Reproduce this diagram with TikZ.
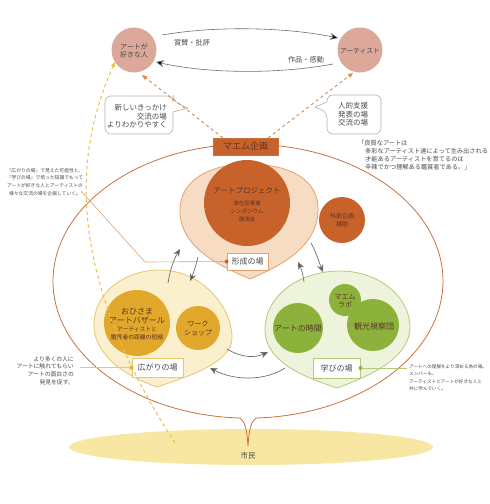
\documentclass[tikz,border=0pt]{standalone}
\usepackage{fontspec}
\setmainfont{Noto Sans CJK JP}
\usetikzlibrary{arrows.meta}
\newcommand\fsz[2]{\fontsize{#1}{#2}\selectfont}
\definecolor{pinkc}{HTML}{DCA89A}
\definecolor{orng}{HTML}{C8622B}
\definecolor{peach}{HTML}{F6DCC3}
\definecolor{peachline}{HTML}{E0A272}
\definecolor{ylwfill}{HTML}{FBF0CD}
\definecolor{ylwline}{HTML}{E8C670}
\definecolor{gold}{HTML}{E2A82C}
\definecolor{grnfill}{HTML}{EEF3DB}
\definecolor{grnline}{HTML}{B2CB78}
\definecolor{grn}{HTML}{8CB23C}
\definecolor{citizen}{HTML}{F8E7A2}
\definecolor{bubble}{HTML}{C9713A}
\definecolor{dashor}{HTML}{D9864A}
\definecolor{dashyl}{HTML}{E6C24A}
\definecolor{txt}{HTML}{4A4A4A}
\definecolor{darktxt}{HTML}{5A3426}
\definecolor{agray}{HTML}{6E6E6E}
\begin{document}
\begin{tikzpicture}[x=1pt,y=-1pt,
  disc/.style={circle, fill=#1, inner sep=0pt},
  ctext/.style={text=darktxt, inner sep=0pt, align=center},
  gtext/.style={text=txt, inner sep=0pt},
  areabox/.style={draw=#1, fill=white, line width=1pt, inner sep=0pt, font=\fsz{8}{9}, text=txt},
  dotmark/.style={circle, fill=#1, inner sep=0pt, minimum size=4pt},
  garrow/.style={draw=agray, line width=0.7pt, -{Stealth[length=7.5pt,width=6.5pt,fill=agray!80!black]}},
  karrow/.style={draw=agray, line width=0.6pt, -{Stealth[length=8pt,width=7pt,fill=black]}},
  darrow/.style={draw=dashor, line width=0.9pt, dash pattern=on 3pt off 3pt, -{Triangle[length=5pt,width=4pt]}},
  note/.style={draw=gray!60, fill=white, line width=0.6pt, rounded corners=6pt},
]
\useasboundingbox (0,0) rectangle (490,504);

% citizens
\fill[citizen] (251,447) ellipse [x radius=182, y radius=18];
\node[gtext, font=\fsz{7.5}{9}] (shimin) at (248,456) {市民};

% big bubble
\coordinate (tip) at (248,446);
\draw[bubble, line width=0.8pt] (tip) .. controls (247,430) and (245,421) .. (239.5,418)
  arc[start angle=92.5, end angle=447.5, x radius=195, y radius=137]
  .. controls (251,421) and (249,430) .. (tip);

% formation area (peach)
\draw[draw=peachline, fill=peach, line width=0.8pt]
  (250,279) .. controls (225,268) and (181,250) .. (180,212)
  .. controls (179,180) and (210,164) .. (248,164)
  .. controls (290,164) and (320,180) .. (318,212)
  .. controls (316,250) and (275,268) .. (250,279) -- cycle;
% spread area (yellow)
\draw[draw=ylwline, fill=ylwfill, line width=0.8pt]
  (157,387) .. controls (125,376) and (94,355) .. (94,325)
  .. controls (94,292) and (125,270) .. (160,270)
  .. controls (200,270) and (232,305) .. (232,338)
  .. controls (232,362) and (190,376) .. (157,387) -- cycle;
% learning area (green)
\draw[draw=grnline, fill=grnfill, line width=0.8pt]
  (337,388) .. controls (300,376) and (265,360) .. (265,330)
  .. controls (265,295) and (300,271) .. (340,271)
  .. controls (380,271) and (410,298) .. (410,327)
  .. controls (410,358) and (370,376) .. (337,388) -- cycle;

% circles
\node[disc=orng, minimum size=86pt] (proj) at (247,203) {};
\node[ctext, font=\fsz{7.5}{9}] (projt) at (247,191) {アートプロジェクト};
\node[ctext, font=\fsz{5.5}{8}] (projs) at (247,211) {滞在型事業\\シンポジウム\\講演会};
\node[disc=orng, minimum size=46pt] (gaibu) at (342,220) {};
\node[ctext, font=\fsz{6}{8}] (gaibut) at (342,220) {外部企画\\補助};

\node[disc=gold, minimum size=66pt] (bazaar) at (137,323) {};
\node[ctext, font=\fsz{8}{8.5}] (bazaart) at (137,316) {おひさま\\アートバザール};
\node[ctext, font=\fsz{5.8}{8}] (bazaars) at (137,333) {アーティストと\\鑑賞者の距離の短縮};
\node[disc=gold, minimum size=44pt] (ws) at (198,328) {};
\node[ctext, font=\fsz{7}{9}] (wst) at (198,328) {ワーク\\ショップ};

\node[disc=grn, minimum size=50pt] (jikan) at (298,328) {};
\node[disc=grn, minimum size=32pt] (labo) at (345,300) {};
\node[disc=grn, minimum size=52pt] (kanko) at (373,325) {};
\node[ctext, font=\fsz{8}{9}] (jikant) at (298,328) {アートの時間};
\node[ctext, font=\fsz{7}{8.5}] (labot) at (345,301) {マエム\\ラボ};
\node[ctext, font=\fsz{8}{9}] (kankot) at (374,326) {観光視察団};

% area labels
\node[areabox=peachline, minimum width=41pt, minimum height=17pt] (keisei) at (247.5,261.5) {形成の場};
\node[dotmark=orng] (kdot) at (keisei.west) {};
\node[areabox=ylwline, minimum width=51pt, minimum height=19pt] (hiro) at (157.5,367.5) {広がりの場};
\node[dotmark=gold] (hdot) at (hiro.west) {};
\node[areabox=grnline, minimum width=47pt, minimum height=20pt] (manabi) at (336.5,368) {学びの場};
\node[dotmark=grn] (mdot) at (manabi.east) {};

% annotations
\node[gtext, align=center, anchor=north, font=\fsz{4.8}{7.6}] (annL) at (45,168)
  {『広がりの場』で見えた可能性と、\\『学びの場』で培った知識でもって\\アートが好きな人とアーティストの\\様々な交流の場を企画していく。};
\coordinate (annLend) at (81,191);
\draw[draw=peachline, line width=0.6pt] (annLend) -- (145,262) -- (kdot);

\node[gtext, align=right, anchor=north east, font=\fsz{5.8}{7.8}] (annBL) at (74,356)
  {より多くの人に\\アートに触れてもらい\\アートの面白さの\\発見を促す。};
\coordinate (annBLend) at (80,367.5);
\draw[draw=ylwline, line width=0.6pt] (annBLend) -- (hdot);

\node[gtext, align=left, anchor=north west, font=\fsz{4.6}{7.4}] (annBR) at (409,364.5)
  {アートへの理解をより深める為の場。\\メンバーも、\\アーティストとアートが好きな人と\\共に学んでいく。};
\coordinate (annBRend) at (407,368);
\draw[draw=grnline, line width=0.6pt] (mdot) -- (annBRend);

\node[gtext, align=left, anchor=north west, font=\fsz{6.2}{8}] (quote) at (358,140.5)
  {「良質なアートは\\\hspace*{7pt}多彩なアーティスト達によって生み出される\\\hspace*{7pt}才能あるアーティストを育てるのは\\\hspace*{7pt}辛辣でかつ理解ある鑑賞者である。」};

% gray arrows between areas
\draw[garrow] (168,283) .. controls (170,270) and (174,259) .. (180,249);
\draw[garrow] (198,257) .. controls (196,265) and (194,272) .. (190,281);
\draw[garrow] (304,282) .. controls (303,274) and (301,268) .. (298,262);
\draw[garrow] (311,243) .. controls (316,252) and (319,262) .. (323,272);
\draw[garrow] (227,349) .. controls (242,358) and (255,358) .. (268,352);
\draw[garrow] (285,368) .. controls (265,381) and (235,381) .. (210,368);

% top: people
\node[disc=pinkc, minimum size=45pt] (fan) at (134,50) {};
\node[ctext, font=\fsz{7}{8.5}, text=txt] (fant) at (134,51) {アートが\\好きな人};
\node[disc=pinkc, minimum size=45pt] (artist) at (360,50) {};
\node[ctext, font=\fsz{6.8}{8}, text=txt] (artistt) at (360,51) {アーティスト};

\coordinate (a1s) at (162,35);
\coordinate (a1e) at (338,38);
\draw[karrow] (a1s) .. controls (220,25) and (290,28) .. (a1e);
\node[gtext, font=\fsz{7.2}{9}] (shosan) at (192,43) {賞賛・批評};
\coordinate (a2s) at (333,64);
\coordinate (a2e) at (156,62);
\draw[karrow] (a2s) .. controls (280,74) and (210,74) .. (a2e);
\node[gtext, font=\fsz{7.2}{9}] (sakuhin) at (306,60) {作品・感動};

% speech notes
\draw[note] (105,96) -- (173,96) -- (173,101) [sharp corners] -- (188,108) -- (173,112) [rounded corners=6pt] -- (173,134) -- (105,134) -- cycle;
\node[gtext, align=right, anchor=east, font=\fsz{7.5}{8.6}] (noteL) at (167,116.5) {新しいきっかけ\\交流の場\\よりわかりやすく};
\draw[note] (381,95) -- (381,134) -- (327,134) -- (327,112) [sharp corners] -- (315,107) -- (327,102) [rounded corners=6pt] -- (327,95) -- cycle;
\node[gtext, align=center, font=\fsz{7.5}{8.6}] (noteR) at (353,114.5) {人的支援\\発表の場\\交流の場};

% yellow dashed link
\draw[draw=dashyl, line width=1pt, dash pattern=on 3.5pt off 3pt, -{Triangle[length=5pt,width=4pt]}]
  (175,443) .. controls (50,250) and (85,130) .. (115,62);

% planning box and orange dashed arrows
\node[fill=orng, draw=bubble, minimum width=65pt, minimum height=17pt, inner sep=0pt,
  font=\fsz{9}{10}, text=darktxt] (maem) at (245.5,146.5) {マエム企画};
\coordinate (d1e) at (142,75);
\coordinate (d2e) at (353,73);
\draw[darrow] ([xshift=10pt]maem.north west) -- (d1e);
\draw[darrow] ([xshift=-10pt]maem.north east) -- (d2e);
\end{tikzpicture}
\end{document}
